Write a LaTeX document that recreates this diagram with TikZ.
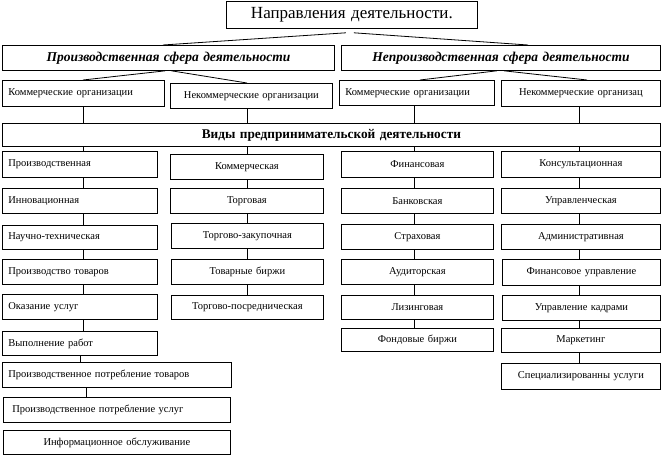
\documentclass[tikz,border=0pt]{standalone}
\usepackage{fontspec}
\setmainfont{Liberation Serif}
\newcommand\abox[7][]{%
  \pgfmathsetlengthmacro\aboxw{#5-#3-12}%
  \pgfmathsetlengthmacro\aboxh{#6-#4}%
  \node[box, align=center, text width=\aboxw, minimum height=\aboxh, #1] (#2) at (#3,#4) {#7};}
\begin{document}
\begin{tikzpicture}[x=1pt,y=-1pt,
  box/.style={draw, line width=0.8pt, inner xsep=6pt, inner ysep=0pt, anchor=north west, font=\fontsize{10.5}{12}\selectfont},
  lft/.style={align=left},
  conn/.style={line width=0.8pt},
  big/.style={font=\fontsize{17}{19}\selectfont},
  sphere/.style={font=\fontsize{13.5}{15}\selectfont\bfseries\itshape},
  kinds/.style={font=\fontsize{13.3}{15}\selectfont\bfseries}]
\useasboundingbox (0,0) rectangle (662,455);
% top
\abox[big]{title}{226}{1}{477}{28}{Направления деятельности.}
\abox[sphere]{S1}{2}{45}{334}{70}{Производственная сфера деятельности}
\abox[sphere]{S2}{341}{45}{660}{70}{Непроизводственная сфера деятельности}
\abox[lft]{L1}{2}{80}{164}{106}{Коммерческие организации}
\abox{L2}{170}{83}{332}{108}{Некоммерческие организации}
\abox[lft]{L3}{339}{80}{494}{105}{Коммерческие организации}
\abox{L4}{501}{80}{660}{106}{Некоммерческие организац}
\abox[kinds]{V}{2}{123}{660}{146}{Виды предпринимательской деятельности}
% column 1
\abox[lft]{P1}{2}{151}{157}{177}{Производственная}
\abox[lft]{P2}{2}{188}{157}{213}{Инновационная}
\abox[lft]{P3}{2}{225}{157}{249}{Научно-техническая}
\abox[lft]{P4}{2}{259}{157}{284}{Производство товаров}
\abox[lft]{P5}{2}{294}{157}{319}{Оказание услуг}
\abox[lft]{P6}{2}{331}{157}{355}{Выполнение работ}
\abox[lft]{P7}{2}{362}{231}{387}{Производственное потребление товаров}
\abox[lft]{P8}{3}{397}{230}{422}{\hspace*{3pt}Производственное потребление услуг}
\abox{P9}{3}{430}{230}{454}{Информационное обслуживание}
% column 2
\abox{C1}{170}{154}{323}{179}{Коммерческая}
\abox{C2}{170}{188}{323}{213}{Торговая}
\abox{C3}{171}{223}{323}{248}{Торгово-закупочная}
\abox{C4}{171}{259}{323}{284}{Товарные биржи}
\abox{C5}{171}{295}{323}{319}{Торгово-посредническая}
% column 3
\abox{F1}{341}{151}{493}{177}{Финансовая}
\abox{F2}{341}{188}{493}{213}{Банковская}
\abox{F3}{341}{224}{493}{249}{Страховая}
\abox{F4}{341}{259}{493}{284}{Аудиторская}
\abox{F5}{341}{295}{493}{319}{Лизинговая}
\abox{F6}{341}{328}{493}{351}{Фондовые биржи}
% column 4
\abox{K1}{501}{151}{660}{177}{Консультационная}
\abox{K2}{501}{188}{660}{213}{Управленческая}
\abox{K3}{501}{224}{660}{249}{Административная}
\abox{K4}{502}{259}{660}{285}{Финансовое управление}
\abox{K5}{502}{295}{660}{320}{Управление кадрами}
\abox{K6}{501}{328}{660}{352}{Маркетинг}
\abox{K7}{501}{363}{660}{389}{Специализированны услуги}
% x positions of connectors
\coordinate (xa) at (163,0);
\coordinate (xb) at (528,0);
\coordinate (x1) at (83,0);
\coordinate (x2) at (247,0);
\coordinate (x3) at (414,0);
\coordinate (x4) at (579,0);
\coordinate (x1a) at (80,0);
\coordinate (x1b) at (86,0);
\coordinate (xr1) at (420,0);
\coordinate (xr2) at (587,0);
% connectors
\draw[conn] ([shift={(-6,4)}]title.south) -- (S1.north -| xa);
\draw[conn] ([shift={(2,4)}]title.south) -- (S2.north -| xb);
\draw[conn] ([xshift=-3]S1.south) -- (L1.north -| x1);
\draw[conn] ([xshift=3]S1.south) -- (L2.north -| x2);
\draw[conn] ([xshift=-4]S2.south) -- (L3.north -| xr1);
\draw[conn] ([xshift=3]S2.south) -- (L4.north -| xr2);
\draw[conn] (L1.south -| x1) -- (V.north -| x1);
\draw[conn] (L2.south -| x2) -- (V.north -| x2);
\draw[conn] (L3.south -| x3) -- (V.north -| x3);
\draw[conn] (L4.south -| x4) -- (V.north -| x4);
\draw[conn] (V.south -| x1) -- (P1.north -| x1);
\draw[conn] (V.south -| x2) -- (C1.north -| x2);
\draw[conn] (V.south -| x3) -- (F1.north -| x3);
\draw[conn] (V.south -| x4) -- (K1.north -| x4);
\foreach \a/\b in {P1/P2,P2/P3,P3/P4,P4/P5,P5/P6}
  \draw[conn] (\a.south -| x1) -- (\b.north -| x1);
\draw[conn] (P6.south -| x1a) -- (P7.north -| x1a);
\draw[conn] (P7.south -| x1b) -- (P8.north -| x1b);
\foreach \a/\b in {C1/C2,C2/C3,C3/C4,C4/C5}
  \draw[conn] (\a.south -| x2) -- (\b.north -| x2);
\foreach \a/\b in {F1/F2,F2/F3,F3/F4,F4/F5,F5/F6}
  \draw[conn] (\a.south -| x3) -- (\b.north -| x3);
\foreach \a/\b in {K1/K2,K2/K3,K3/K4,K4/K5,K5/K6,K6/K7}
  \draw[conn] (\a.south -| x4) -- (\b.north -| x4);
\end{tikzpicture}
\end{document}
